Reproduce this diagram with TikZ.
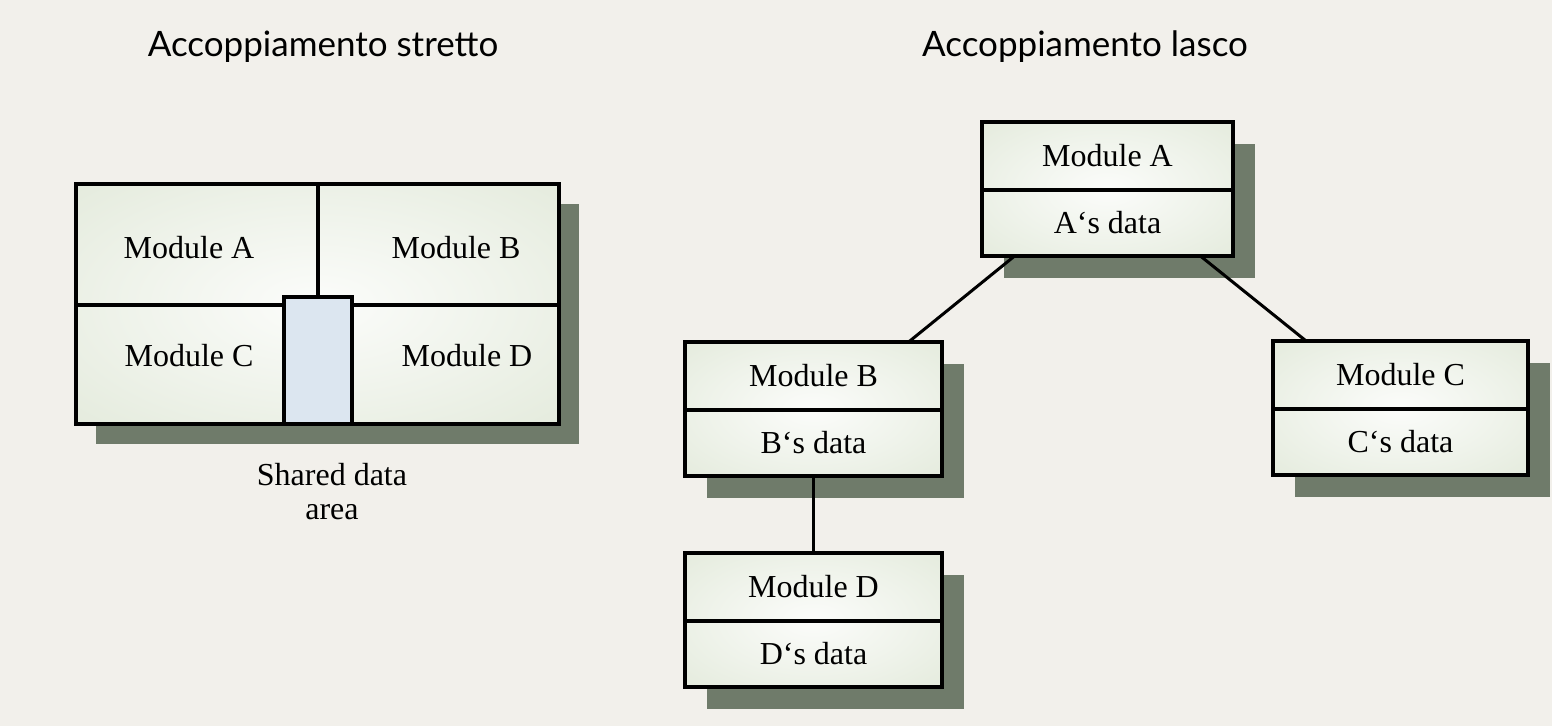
\documentclass[tikz,border=0pt]{standalone}
\usepackage{fontspec}
\setmainfont{Liberation Serif}
\newfontfamily\titlefont{Lato}
\usetikzlibrary{positioning,calc,backgrounds}
\definecolor{paper}{RGB}{242,240,235}
\definecolor{boxgreen}{RGB}{219,228,209}
\definecolor{shadowgreen}{RGB}{111,123,106}
\definecolor{sharedblue}{RGB}{220,230,240}
\pgfdeclareradialshading{softglow}{\pgfpoint{0bp}{0bp}}{color(0bp)=(white!90!boxgreen); color(20bp)=(white!55!boxgreen); color(50bp)=(boxgreen); color(100bp)=(boxgreen)}
\tikzset{
  modtop/.style={draw,line width=2pt,outer sep=0pt,inner sep=0pt,minimum height=34pt,font=\fontsize{16}{18}\selectfont},
  moddata/.style={modtop,minimum height=33pt},
  headline/.style={font=\titlefont\fontsize{17.5}{20}\selectfont},
  textlbl/.style={font=\fontsize{16}{17}\selectfont,align=center},
  link/.style={line width=1.5pt},
  frame/.style={line width=2pt},
  glow/.style={shading=softglow},
}
\begin{document}
\begin{tikzpicture}[x=0.5pt,y=0.5pt]
\begin{scope}[on background layer]
\fill[paper] (0,0) rectangle (1552,-726);
\end{scope}
\useasboundingbox (0,0) rectangle (1552,-726);

% titles
\node[headline] (titleTight) at (323,-47) {Accoppiamento stretto};
\node[headline] (titleLoose) at (1085,-47) {Accoppiamento lasco};

% tight coupling: one block with shared data area
\fill[shadowgreen] (96,-204) rectangle (579,-444);
\shade[glow] (76,-184) rectangle (559,-424);
\draw[frame] (76,-184) rectangle (559,-424);
\draw[frame] (76,-305) -- (559,-305);
\draw[frame] (318,-184) -- (318,-297);
\filldraw[frame,fill=sharedblue] (284,-297) rectangle (352,-424);
\node[textlbl] (tightA) at (189,-248) {Module A};
\node[textlbl] (tightB) at (456,-248) {Module B};
\node[textlbl] (tightC) at (189,-356) {Module C};
\node[textlbl] (tightD) at (467,-356) {Module D};
\node[textlbl] (shared) at (332,-492) {Shared data\\area};

% loose coupling: each module keeps its own data
\node[modtop,minimum width=125.5pt] (modA) at (1107.5,-156) {Module A};
\node[moddata,minimum width=125.5pt,below=0pt of modA] (modAdata) {A‘s data};
\node[modtop,minimum width=128.5pt] (modB) at (813.5,-376) {Module B};
\node[moddata,minimum width=128.5pt,below=0pt of modB] (modBdata) {B‘s data};
\node[modtop,minimum width=127.5pt] (modC) at (1400.5,-375) {Module C};
\node[moddata,minimum width=127.5pt,below=0pt of modC] (modCdata) {C‘s data};
\node[modtop,minimum width=128.5pt] (modD) at (813.5,-587) {Module D};
\node[moddata,minimum width=128.5pt,below=0pt of modD] (modDdata) {D‘s data};

\begin{scope}[on background layer]
\foreach \m in {modA,modB,modC,modD} {
  \fill[shadowgreen] ($(\m.north west)+(22,-22)$) rectangle ($(\m data.south east)+(22,-22)$);
  \shade[glow] (\m.north west) rectangle (\m data.south east);
}
\end{scope}

\draw[link] ($(modAdata.south west)!0.13!(modAdata.south east)$) -- ($(modB.north west)!0.87!(modB.north east)$);
\draw[link] ($(modAdata.south west)!0.87!(modAdata.south east)$) -- ($(modC.north west)!0.13!(modC.north east)$);
\draw[link] (modBdata.south) -- (modD.north);
\end{tikzpicture}
\end{document}
